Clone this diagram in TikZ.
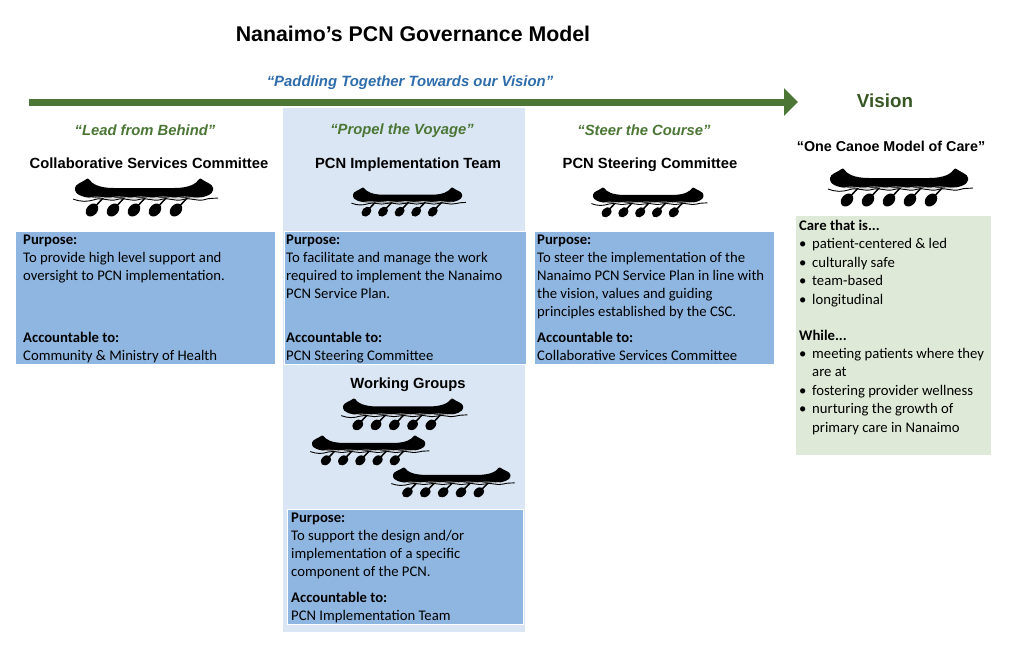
\documentclass[tikz,border=0pt]{standalone}
\usepackage{fontspec}
\setmainfont{Liberation Sans}
\newfontfamily\bodyfont{Carlito}
\usetikzlibrary{arrows.meta}
\definecolor{paddlegreen}{HTML}{4B7635}
\definecolor{visiongreen}{HTML}{375623}
\definecolor{mottoblue}{HTML}{2E6CAB}
\definecolor{bandblue}{HTML}{DAE6F3}
\definecolor{boxblue}{HTML}{8FB6E0}
\definecolor{caregreen}{HTML}{DEE9D7}
\tikzset{
  boxfill/.style={fill=boxblue,draw=white,line width=0.7pt},
  motto/.style={font=\fontsize{14.8}{17}\selectfont\bfseries\itshape,text=paddlegreen,inner sep=0pt,anchor=base},
  heading/.style={font=\fontsize{14.75}{17}\selectfont\bfseries,inner sep=0pt,anchor=base},
  bodytext/.style={font=\bodyfont\fontsize{14.7}{18}\selectfont,anchor=north west,align=left,inner sep=0pt},
  listtext/.style={bodytext,font=\bodyfont\fontsize{14.7}{18.45}\selectfont},
  canoe/.pic={
    \fill[rounded corners=1pt] (0,11) .. controls (0,6) and (8,4) .. (13,0)
      .. controls (17,6) and (24,10) .. (40,10) -- (98,10)
      .. controls (114,10) and (121,6) .. (125,0)
      .. controls (130,4) and (138,6) .. (138,11)
      .. controls (138,16) and (130,20) .. (118,20) -- (20,20)
      .. controls (8,20) and (0,16) .. (0,11) -- cycle;
    % paddles go in first, the water runs over them
    \foreach \px in {17,38,59,80,101}{
      \draw[line width=1.5pt] (\px+12,19) -- (\px,32);
      \fill[rotate around={-42:(\px,32)}] (\px,32) ellipse (5.4 and 7.2);
    }
    \draw[gray!55,line width=0.8pt] (14,20) .. controls (22,17.5) and (30,21) .. (38,19.5)
      .. controls (46,17.5) and (54,21) .. (60,19.5)
      .. controls (68,17.5) and (76,21) .. (82,19.5)
      .. controls (90,17.5) and (98,21) .. (104,19.5)
      .. controls (112,17.5) and (118,21) .. (126,19.5);
    \draw[line width=0.9pt] (-2,21) .. controls (6,24) and (12,24) .. (20,21.5)
      .. controls (28,19) and (34,24) .. (42,21.5)
      .. controls (50,19) and (56,24) .. (64,21.5)
      .. controls (72,19) and (78,24) .. (86,21.5)
      .. controls (94,19) and (100,24) .. (108,21.5)
      .. controls (116,19) and (122,24) .. (130,21.5)
      .. controls (134,20) and (139,20.5) .. (143,20);
  }
}
\newcommand{\bul}{\makebox[13pt][l]{\textbullet}}
\begin{document}
\begin{tikzpicture}[x=1pt,y=-1pt]
  \useasboundingbox (0,0) rectangle (1009,646);
  % shaded column and the filled boxes
  \fill[bandblue] (283,108) rectangle (525,632);
  \filldraw[boxfill] (15,231) rectangle (275,364);
  \filldraw[boxfill] (284,231) rectangle (526,364);
  \filldraw[boxfill] (534,231) rectangle (774,364);
  \filldraw[boxfill] (287,509) rectangle (523,624);
  \fill[caregreen] (796,216) rectangle (991,455);

  \node[font=\fontsize{21.3}{25}\selectfont\bfseries,inner sep=0pt,anchor=base] (title) at (413,41) {Nanaimo’s PCN Governance Model};
  \node[font=\fontsize{14.9}{17}\selectfont\bfseries\itshape,text=mottoblue,inner sep=0pt,anchor=base] (together) at (410,86) {“Paddling Together Towards our Vision”};

  \coordinate (arrowtail) at (29,102);
  \coordinate (arrowtip) at (798,102);
  \draw[line width=7pt,paddlegreen,-{Triangle[length=14pt,width=27pt]}] (arrowtail) -- (arrowtip);

  \node[font=\fontsize{18.8}{22}\selectfont\bfseries,text=visiongreen,inner sep=0pt,anchor=base] (vision) at (885,107) {Vision};

  % the columns
  \node[motto] (lead) at (145,135) {“Lead from Behind”};
  \node[motto] (propel) at (402,134) {“Propel the Voyage”};
  \node[motto] (steer) at (644,135) {“Steer the Course”};

  \node[heading] (csc) at (149,168) {Collaborative Services Committee};
  \node[heading] (team) at (408,168) {PCN Implementation Team};
  \node[heading] (steering) at (650,168) {PCN Steering Committee};
  \node[heading,font=\fontsize{14.3}{17}\selectfont\bfseries] (onecanoe) at (891,151) {“One Canoe Model of Care”};
  \node[heading] (groups) at (408,388) {Working Groups};

  \pic at (75,178) {canoe};
  \pic[xscale=0.79,yscale=0.77] at (353,187) {canoe};
  \pic[xscale=0.80,yscale=0.79] at (593,187) {canoe};
  \pic at (830,168) {canoe};
  \pic[xscale=0.87,yscale=0.84] at (343,398) {canoe};
  \pic[xscale=0.82,yscale=0.79] at (312,435) {canoe};
  \pic[xscale=0.85,yscale=0.79] at (393,467) {canoe};

  \node[bodytext] (purposea) at (23,235) {\textbf{Purpose:}\\To provide high level support and\\oversight to PCN implementation.};
  \node[bodytext] (accounta) at (23,331.5) {\textbf{Accountable to:}\\Community \& Ministry of Health};

  \node[bodytext] (purposeb) at (286,235) {\textbf{Purpose:}\\To facilitate and manage the work\\required to implement the Nanaimo\\PCN Service Plan.};
  \node[bodytext] (accountb) at (286,331.5) {\textbf{Accountable to:}\\PCN Steering Committee};

  \node[bodytext] (purposec) at (537,235) {\textbf{Purpose:}\\To steer the implementation of the\\Nanaimo PCN Service Plan in line with\\the vision, values and guiding\\principles established by the CSC.};
  \node[bodytext] (accountc) at (537,331.5) {\textbf{Accountable to:}\\Collaborative Services Committee};

  \node[bodytext] (purposed) at (291,513) {\textbf{Purpose:}\\To support the design and/or\\implementation of a specific\\component of the PCN.};
  \node[bodytext] (accountd) at (291,592) {\textbf{Accountable to:}\\PCN Implementation Team};

  \node[listtext] (careis) at (799,220) {\textbf{Care that is...}\\\bul patient-centered \& led\\\bul culturally safe\\\bul team-based\\\bul longitudinal};
  \node[listtext] (whilenote) at (799,329.5) {\textbf{While...}\\\bul meeting patients where they\\\hspace*{13pt}are at\\\bul fostering provider wellness\\\bul nurturing the growth of\\\hspace*{13pt}primary care in Nanaimo};
\end{tikzpicture}
\end{document}
